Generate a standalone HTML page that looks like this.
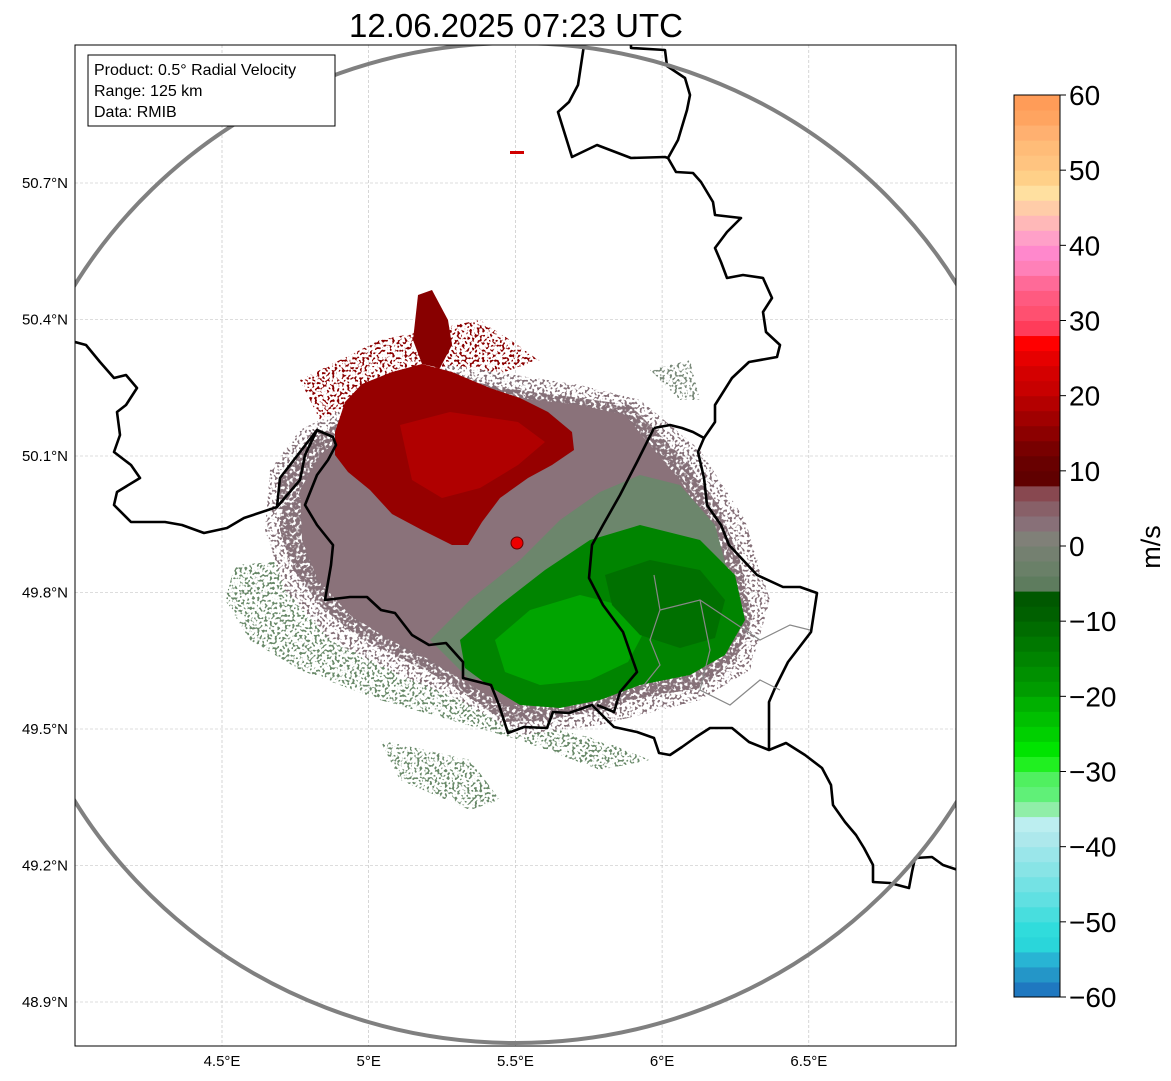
<!DOCTYPE html>
<html><head><meta charset="utf-8"><style>
html,body{margin:0;padding:0;background:#fff;}
svg{display:block;font-family:"Liberation Sans","DejaVu Sans",sans-serif;}
</style></head><body>
<svg id="chart" width="1171" height="1081" viewBox="0 0 1171 1081" xmlns="http://www.w3.org/2000/svg">
<defs>
<clipPath id="axclip"><rect x="75" y="45" width="881" height="1001"/></clipPath>
<filter id="speckle" x="0" y="0" width="100%" height="100%" filterUnits="userSpaceOnUse">
<feTurbulence type="fractalNoise" baseFrequency="0.3" numOctaves="1" seed="3" result="n"/>
<feColorMatrix in="n" type="matrix" values="0 0 0 0 0  0 0 0 0 0  0 0 0 0 0  0 0 0 -9 5.4" result="m"/>
<feComposite in="SourceGraphic" in2="m" operator="in"/>
</filter>
<filter id="speckle2" x="0" y="0" width="100%" height="100%" filterUnits="userSpaceOnUse">
<feTurbulence type="fractalNoise" baseFrequency="0.4" numOctaves="1" seed="7" result="n"/>
<feColorMatrix in="n" type="matrix" values="0 0 0 0 0  0 0 0 0 0  0 0 0 0 0  0 0 0 -12 5.6" result="m"/>
<feComposite in="SourceGraphic" in2="m" operator="in"/>
</filter>
</defs>
<text x="516" y="37" text-anchor="middle" font-size="33" fill="#000">12.06.2025 07:23 UTC</text>
<g id="grid"></g>
<g clip-path="url(#axclip)">
  <g filter="url(#speckle2)">
    <path d="M235,565 L300,560 L380,600 L430,640 L470,690 L520,720 L600,740 L650,760 L600,770 L520,740 L450,720 L380,700 L300,670 L250,640 L225,600 Z" fill="#6a8a6a"/>
    <path d="M380,740 L470,760 L500,800 L470,810 L400,780 Z" fill="#6a8a6a"/>
    <path d="M650,370 L690,360 L700,400 L680,400 Z" fill="#7a8a7a"/>
    <path d="M300,380 L380,340 L480,320 L540,360 L480,380 L380,400 L320,420 Z" fill="#8b0000"/>
    <path d="M270,470 L300,430 L340,410 L450,365 L580,385 L640,400 L700,450 L745,520 L770,600 L750,670 L700,700 L600,725 L520,735 L460,700 L400,675 L330,640 L285,590 L265,530 Z" fill="#857078"/>
  </g>
  <g filter="url(#speckle)">
    <path d="M280,480 L305,445 L335,425 L385,395 L450,378 L520,390 L580,398 L630,405 L660,435 L690,465 L718,505 L740,560 L752,620 L735,660 L700,688 L640,698 L600,710 L550,720 L505,722 L470,698 L440,678 L400,658 L360,638 L322,608 L292,568 L280,530 Z" fill="#857078"/>
  </g>
  <g>
    <path d="M300,490 L320,455 L350,430 L400,405 L460,392 L520,398 L580,405 L625,415 L650,445 L680,480 L705,520 L720,570 L725,620 L700,660 L640,680 L590,695 L545,705 L505,705 L470,685 L430,660 L390,640 L350,615 L318,580 L302,540 Z" fill="#8a727a"/>
    <path d="M430,640 L470,600 L520,560 L560,520 L600,492 L640,475 L680,485 L715,525 L730,580 L700,600 L600,625 L520,665 L470,680 Z" fill="#6c866c"/>
    <path d="M460,640 L500,605 L545,570 L590,540 L640,525 L700,540 L735,575 L745,620 L725,655 L690,675 L640,685 L600,700 L560,708 L520,705 L492,688 L465,668 Z" fill="#008400"/>
    <path d="M495,640 L530,610 L580,595 L620,605 L645,630 L628,662 L590,680 L540,685 L505,672 Z" fill="#00a400"/>
    <path d="M605,575 L650,560 L700,570 L725,600 L715,638 L680,648 L640,635 L612,605 Z" fill="#007000"/>
    <path d="M335,432 L345,402 L362,384 L392,372 L422,364 L452,372 L490,388 L520,398 L548,412 L572,432 L574,450 L552,465 L528,478 L500,498 L482,522 L468,545 L452,545 L422,530 L392,514 L370,490 L348,472 L335,455 Z" fill="#960000"/>
    <path d="M400,425 L450,412 L518,422 L545,442 L518,465 L480,488 L442,498 L412,480 Z" fill="#b00000"/>
    <path d="M418,295 L432,290 L448,320 L452,345 L440,368 L422,364 L413,340 Z" fill="#880000"/>
  </g>
  <rect x="510" y="151" width="14" height="3" fill="#d00000"/>
</g>
<g clip-path="url(#axclip)" fill="none" stroke="#000" stroke-width="2.6" stroke-linejoin="round">
  <polyline points="75,342 86,345 100,362 114,378 126,375 137,388 126,405 117,412 120,435 114,452 131,465 140,478 117,492 114,505 131,522 165,522 182,525 204,533 227,528 244,518 277,507 280,478 300,452 317,430 333,437 336,445 328,460 317,475 305,505 317,525 333,545 331,565 325,600 350,597 367,597 381,610 395,613 412,635 429,645 446,643 463,662 463,678 491,685 499,705 508,733 524,727 547,728 553,712 569,713 592,705 614,727 637,732 654,738 659,753 670,755 682,747 696,737 710,728 732,728 749,742 769,750 786,743 805,755 822,768 831,785 833,805 845,822 856,835 864,848 873,865 873,882 890,883 909,888 912,872 915,858 932,857 943,865 958,870"/>
  <polyline points="654,428 637,462 620,495 603,525 592,545 589,578 603,605 623,632 631,655 637,672 620,692 614,712 597,705"/>
  <polyline points="654,428 670,425 682,428 693,432 704,438 698,452 704,478 707,505 721,525 729,545 757,575 783,587 800,587 817,593 811,632 788,662 775,688 769,702 769,750"/>
  <polyline points="704,438 715,422 715,405 732,378 749,362 777,357 780,345 766,332 763,312 772,298 763,278 743,275 727,278 721,262 715,248 727,232 741,218 715,215 713,202 701,182 693,173 676,172 668,158 665,157 631,158 597,145 572,157 558,112 569,102 578,85 584,45"/>
  <polyline points="668,158 678,140 687,110 690,95 685,78 667,66 665,50 631,48 631,45"/>
  <polyline points="317,430 305,455 300,480 277,507"/>
</g>
<g clip-path="url(#axclip)" fill="none" stroke="#888" stroke-width="1.2">
  <polyline points="654,575 660,610 650,640 660,665 640,690"/>
  <polyline points="660,610 700,600 730,620 760,640 790,625 810,630"/>
  <polyline points="700,600 710,650 700,690 730,705 760,680 780,690"/>
</g>
<ellipse cx="516" cy="543" rx="515" ry="500" fill="none" stroke="#808080" stroke-width="4" clip-path="url(#axclip)"/>
<circle cx="517" cy="543" r="6" fill="#ee0000" stroke="#600" stroke-width="1"/>
<rect x="75" y="45" width="881" height="1001" fill="none" stroke="#000" stroke-width="1"/>
<g>
  <rect x="88" y="55" width="247" height="71" fill="#fff" stroke="#000" stroke-width="1"/>
  <text x="94" y="75" font-size="16">Product: 0.5° Radial Velocity</text>
  <text x="94" y="96" font-size="16">Range: 125 km</text>
  <text x="94" y="117" font-size="16">Data: RMIB</text>
</g>
<g id="xticks"></g>
<g id="yticks"></g>
<g id="cbar"></g>
<text transform="translate(1160,547) rotate(-90)" text-anchor="middle" font-size="27">m/s</text>
</svg>
<script>
const NS="http://www.w3.org/2000/svg";
const lonTicks=[4.5,5,5.5,6,6.5];
const lonLabels=["4.5°E","5°E","5.5°E","6°E","6.5°E"];
const latTicks=[50.7,50.4,50.1,49.8,49.5,49.2,48.9];
const latLabels=["50.7°N","50.4°N","50.1°N","49.8°N","49.5°N","49.2°N","48.9°N"];
const cbTicks=[-60,-50,-40,-30,-20,-10,0,10,20,30,40,50,60];
const cbLabels=["−60","−50","−40","−30","−20","−10","0","10","20","30","40","50","60"];
const cbColors=["#1f78c0","#2496c8","#28b4d4","#2ad6da","#30dcdc","#48dede","#60e0e2","#74e2e4","#88e4e6","#9ae6ea",
"#ade8ec","#bceef0","#90eea8","#60f078","#50f060","#20f020","#00e400","#00d000","#00c000","#00b000",
"#009c00","#009000","#008400","#007800","#006c00","#006000","#005800","#5e7c5e","#6a8068","#748070",
"#808078","#887078","#886068","#884850","#600000","#680000","#780000","#8c0000","#a00000","#b40000",
"#c80000","#d40000","#e60000","#ff0000","#ff3c5a","#ff5070","#ff5a80","#ff6a98","#ff80b8","#ff88cc",
"#ffa0c8","#ffb8b8","#ffcca8","#ffe0a0","#ffd088","#ffc480","#ffbc78","#ffb070","#ffa460","#ff9c58"];
const xScale=lon=>222+(lon-4.5)*293.4;
const yScale=lat=>183+(50.7-lat)*(136.5/0.3);
const vMin=-60,vMax=60,cbTop=95,cbBot=997,cbX=1014,cbW=46;
const vScale=v=>cbBot-(v-vMin)/(vMax-vMin)*(cbBot-cbTop);
function mk(tag,attrs,parent){const e=document.createElementNS(NS,tag);for(const k in attrs)e.setAttribute(k,attrs[k]);parent.appendChild(e);return e;}
const grid=document.getElementById('grid'),xt=document.getElementById('xticks'),yt=document.getElementById('yticks'),cb=document.getElementById('cbar');
lonTicks.forEach((lon,i)=>{const x=xScale(lon);
 const l=mk('line',{x1:x,x2:x,y1:45,y2:1046,stroke:'#bbb','stroke-width':0.6,'stroke-dasharray':'3,2'},grid);
 
 
 const t=mk('text',{x:x,y:1066,'text-anchor':'middle','font-size':15},xt);t.textContent=lonLabels[i];
 
 });
latTicks.forEach((lat,i)=>{const y=yScale(lat);
 const l=mk('line',{x1:75,x2:956,y1:y,y2:y,stroke:'#bbb','stroke-width':0.6,'stroke-dasharray':'3,2'},grid);
 
 
 const t=mk('text',{x:68,y:y+5,'text-anchor':'end','font-size':15},yt);t.textContent=latLabels[i];
 
 });
const step=(vMax-vMin)/cbColors.length;
cbColors.forEach((c,i)=>{const v0=vMin+i*step,v1=v0+step;
 const r=mk('rect',{x:cbX,y:vScale(v1),width:cbW,height:vScale(v0)-vScale(v1)+0.5,fill:c},cb);
 
 });
const fr=mk('rect',{x:cbX,y:cbTop,width:cbW,height:cbBot-cbTop,fill:'none',stroke:'#000','stroke-width':1},cb);


cbTicks.forEach((v,i)=>{const y=vScale(v);
 mk('line',{x1:cbX+cbW,x2:cbX+cbW+6,y1:y,y2:y,stroke:'#000','stroke-width':1},cb);
 const t=mk('text',{x:1069,y:y+10,'font-size':28},cb);t.textContent=cbLabels[i];
 
 });
</script>
</body></html>
